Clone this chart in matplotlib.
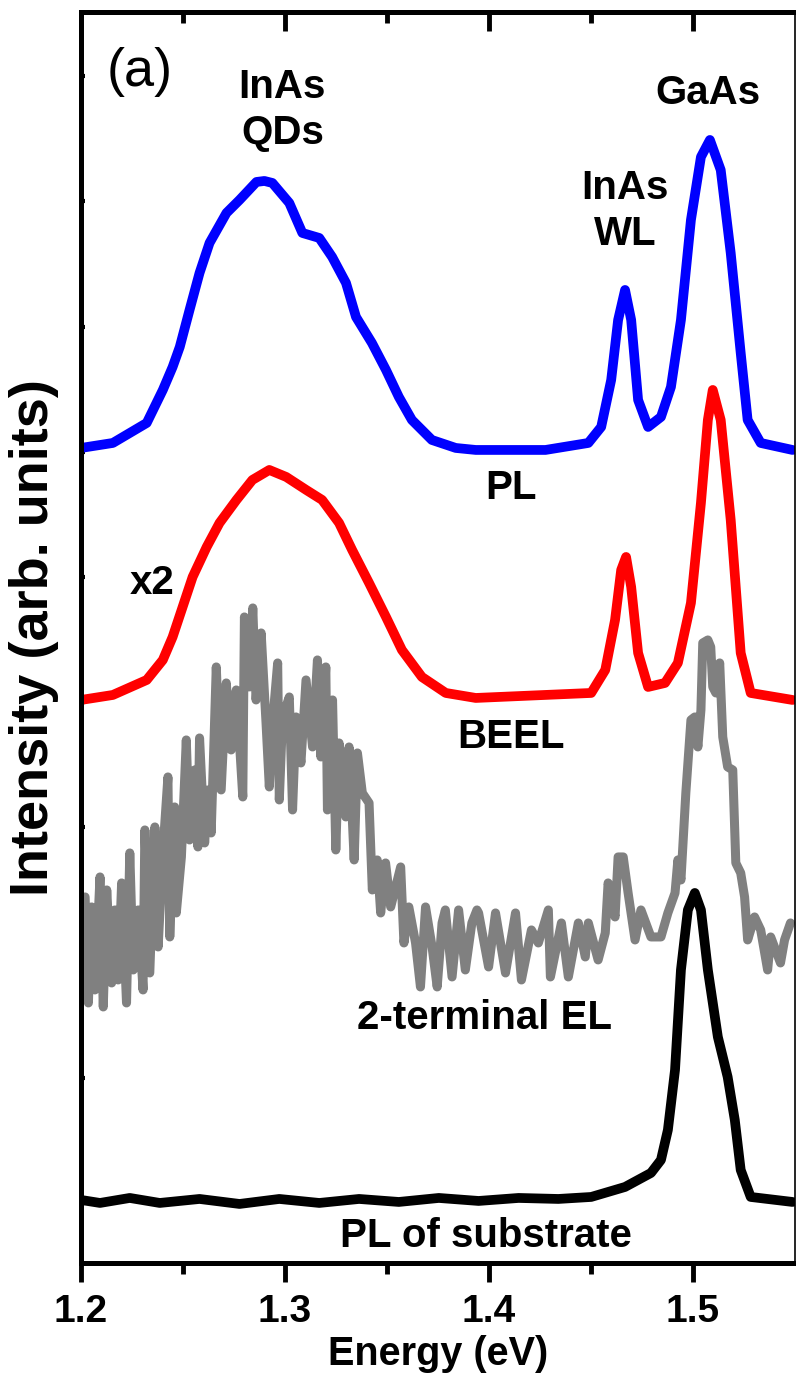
import numpy as np
import matplotlib
matplotlib.use("Agg")
import matplotlib.pyplot as plt

plt.rcParams['font.family'] = ['Liberation Sans', 'DejaVu Sans']

# PL (blue), offset trace
pl_e = [1.200, 1.2156, 1.2322, 1.2401, 1.2449, 1.2484, 1.2532, 1.2581, 1.2630, 1.2713,
        1.2777, 1.2860, 1.2899, 1.2938, 1.3021, 1.3085, 1.3168, 1.3231, 1.3299, 1.3348,
        1.3426, 1.3495, 1.3558, 1.3622, 1.3720, 1.3837, 1.3935, 1.4277, 1.4487, 1.4550,
        1.4599, 1.4633, 1.4667, 1.4697, 1.4731, 1.4780, 1.4843, 1.4892, 1.4941, 1.4990,
        1.5039, 1.5083, 1.5136, 1.5185, 1.5234, 1.5268, 1.5332, 1.5488]
pl_i = [815, 820, 840, 873, 896, 916, 953, 990, 1020, 1050,
        1063, 1081, 1082, 1080, 1060, 1030, 1025, 1006, 980, 946,
        920, 893, 866, 843, 823, 815, 813, 813, 820, 836,
        883, 943, 973, 943, 863, 836, 846, 876, 943, 1043,
        1106, 1123, 1093, 1010, 910, 843, 820, 813]

# BEEL (red, x2)
beel_e = [1.200, 1.2156, 1.2322, 1.2401, 1.2449, 1.2498, 1.2547, 1.2616, 1.2679, 1.2762,
          1.2840, 1.2923, 1.3006, 1.3104, 1.3182, 1.3265, 1.3329, 1.3412, 1.3495, 1.3573,
          1.3671, 1.3788, 1.3935, 1.4501, 1.4570, 1.4618, 1.4648, 1.4672, 1.4697, 1.4731,
          1.4780, 1.4863, 1.4926, 1.4990, 1.5039, 1.5073, 1.5097, 1.5136, 1.5185, 1.5234,
          1.5283, 1.5488]
beel_i = [563, 568, 583, 603, 626, 656, 686, 716, 740, 763,
          783, 793, 786, 773, 763, 740, 713, 680, 646, 613,
          586, 570, 565, 570, 593, 643, 693, 706, 676, 610,
          576, 580, 600, 660, 760, 843, 873, 843, 743, 610,
          570, 563]

# 2-terminal EL (gray)
el_e = [1.2020, 1.2036, 1.2052, 1.2068, 1.2093, 1.2109, 1.2126, 1.2150, 1.2166, 1.2182,
        1.2199, 1.2223, 1.2239, 1.2256, 1.2280, 1.2304, 1.2313, 1.2337, 1.2362, 1.2378,
        1.2402, 1.2426, 1.2435, 1.2459, 1.2467, 1.2492, 1.2516, 1.2532, 1.2557, 1.2573,
        1.2581, 1.2606, 1.2622, 1.2638, 1.2663, 1.2687, 1.2712, 1.2736, 1.2761, 1.2793,
        1.2801, 1.2826, 1.2842, 1.2858, 1.2883, 1.2907, 1.2923, 1.2939, 1.2964, 1.2972,
        1.2988, 1.3021, 1.3037, 1.3054, 1.3078, 1.3103, 1.3135, 1.3159, 1.3176, 1.3200,
        1.3208, 1.3233, 1.3249, 1.3265, 1.3298, 1.3314, 1.3339, 1.3355, 1.3379, 1.3412,
        1.3428, 1.3452, 1.3469, 1.3493, 1.3518, 1.3567, 1.3583, 1.3607, 1.3640, 1.3664,
        1.3689, 1.3721, 1.3746, 1.3770, 1.3786, 1.3819, 1.3851, 1.3884, 1.3916, 1.3941,
        1.3949, 1.3998, 1.4032, 1.4081, 1.4130, 1.4159, 1.4208, 1.4242, 1.4291, 1.4301,
        1.4355, 1.4389, 1.4438, 1.4472, 1.4487, 1.4535, 1.4570, 1.4584, 1.4618, 1.4633,
        1.4658, 1.4682, 1.4716, 1.4745, 1.4794, 1.4843, 1.4877, 1.4912, 1.4926, 1.4941,
        1.4965, 1.4990, 1.5009, 1.5024, 1.5039, 1.5048, 1.5073, 1.5087, 1.5097, 1.5112,
        1.5131, 1.5146, 1.5170, 1.5195, 1.5210, 1.5234, 1.5253, 1.5268, 1.5302, 1.5332,
        1.5366, 1.5381, 1.5429, 1.5449, 1.5478]
el_i = [366, 260, 356, 273, 386, 256, 373, 280, 353, 283,
        380, 260, 410, 293, 353, 273, 433, 290, 436, 316,
        413, 486, 326, 456, 350, 406, 523, 423, 493, 416,
        525, 420, 473, 430, 596, 473, 580, 513, 573, 466,
        646, 576, 655, 563, 630, 540, 476, 540, 600, 463,
        546, 566, 453, 546, 500, 583, 516, 603, 506, 596,
        453, 563, 413, 520, 446, 516, 403, 510, 470, 460,
        373, 403, 350, 400, 356, 396, 320, 356, 320, 276,
        356, 316, 276, 340, 353, 286, 353, 293, 340, 353,
        350, 296, 350, 290, 350, 283, 333, 320, 353, 286,
        340, 286, 340, 306, 340, 303, 330, 380, 346, 406,
        406, 370, 323, 353, 326, 326, 350, 370, 403, 383,
        470, 543, 546, 516, 553, 620, 623, 616, 576, 570,
        600, 526, 496, 493, 400, 390, 366, 323, 346, 333,
        293, 326, 300, 323, 340]

# PL of substrate (black)
sub_e = [1.200, 1.2093, 1.2239, 1.2386, 1.2581, 1.2777, 1.2972, 1.3168, 1.3363, 1.3558,
         1.3754, 1.3949, 1.4145, 1.4340, 1.4501, 1.4667, 1.4794, 1.4843, 1.4877, 1.4912,
         1.4941, 1.4975, 1.5009, 1.5039, 1.5073, 1.5122, 1.5170, 1.5205, 1.5234, 1.5283,
         1.5488]
sub_i = [63, 60, 65, 60, 64, 59, 64, 60, 64, 61,
         65, 62, 65, 64, 66, 76, 90, 103, 133, 193,
         293, 353, 370, 353, 293, 226, 186, 143, 93, 66,
         61]

major = [1.2, 1.3, 1.4, 1.5]
minor = [1.25, 1.35, 1.45]

fig = plt.figure(figsize=(7.96, 13.90), dpi=100)
ax = fig.add_axes([0.1018, 0.0914, 0.8969, 0.9000])

lw = 7.0
ax.plot(pl_e, pl_i, color='#0000ff', lw=lw, solid_joinstyle='round', solid_capstyle='round')
ax.plot(beel_e, beel_i, color='#ff0000', lw=lw, solid_joinstyle='round', solid_capstyle='round')
ax.plot(el_e, el_i, color='#808080', lw=6.5, solid_joinstyle='round', solid_capstyle='round')
ax.plot(sub_e, sub_i, color='black', lw=lw, solid_joinstyle='round', solid_capstyle='round')

ax.set_xlim(1.2, 1.55)
ax.set_ylim(0, 1251)

ax.set_xticks(major)
ax.set_xticks(minor, minor=True)
ax.set_xticklabels(['1.2', '1.3', '1.4', '1.5'], fontsize=28, fontweight='bold')
ax.tick_params(axis='x', which='major', direction='out', length=14, width=3.5, pad=8)
ax.tick_params(axis='x', which='minor', direction='out', length=8, width=3.5)
ax.set_yticks(np.arange(60, 1251, 125.2))
ax.set_yticklabels([])
ax.tick_params(axis='y', which='major', direction='in', length=3, width=3, left=True)

# top axis: ticks pointing inward
top = ax.secondary_xaxis('top')
top.set_xticks(major)
top.set_xticks(minor, minor=True)
top.tick_params(which='major', direction='in', length=14, width=3.5, labeltop=False)
top.tick_params(which='minor', direction='in', length=8, width=3.5)
top.spines['top'].set_linewidth(3.6)

for s in ['left', 'bottom', 'top']:
    ax.spines[s].set_linewidth(3.6)
ax.spines['right'].set_linewidth(1.2)

ax.set_xlabel('Energy (eV)', fontsize=28.5, fontweight='bold', labelpad=4)
ax.set_ylabel('Intensity (arb. units)', fontsize=39, fontweight='bold')
ax.yaxis.set_label_coords(-0.031, 0.5)

tkw = dict(fontsize=29, fontweight='bold', ha='center', va='center')
ax.text(1.2286, 1191, '(a)', fontsize=39, ha='center', va='center')
ax.text(1.2987, 1153, 'InAs\nQDs', linespacing=1.25, **tkw)
ax.text(1.5072, 1170, 'GaAs', **tkw)
ax.text(1.4667, 1052, 'InAs\nWL', linespacing=1.25, **tkw)
ax.text(1.4106, 775, 'PL', **tkw)
ax.text(1.2347, 680, 'x2', **tkw)
ax.text(1.4106, 526, 'BEEL', **tkw)
ax.text(1.3978, 245, '2-terminal EL', **tkw)
ax.text(1.3983, 8, 'PL of substrate', fontsize=29, fontweight='bold', ha='center', va='bottom')

fig.savefig('out.png', dpi=100)
